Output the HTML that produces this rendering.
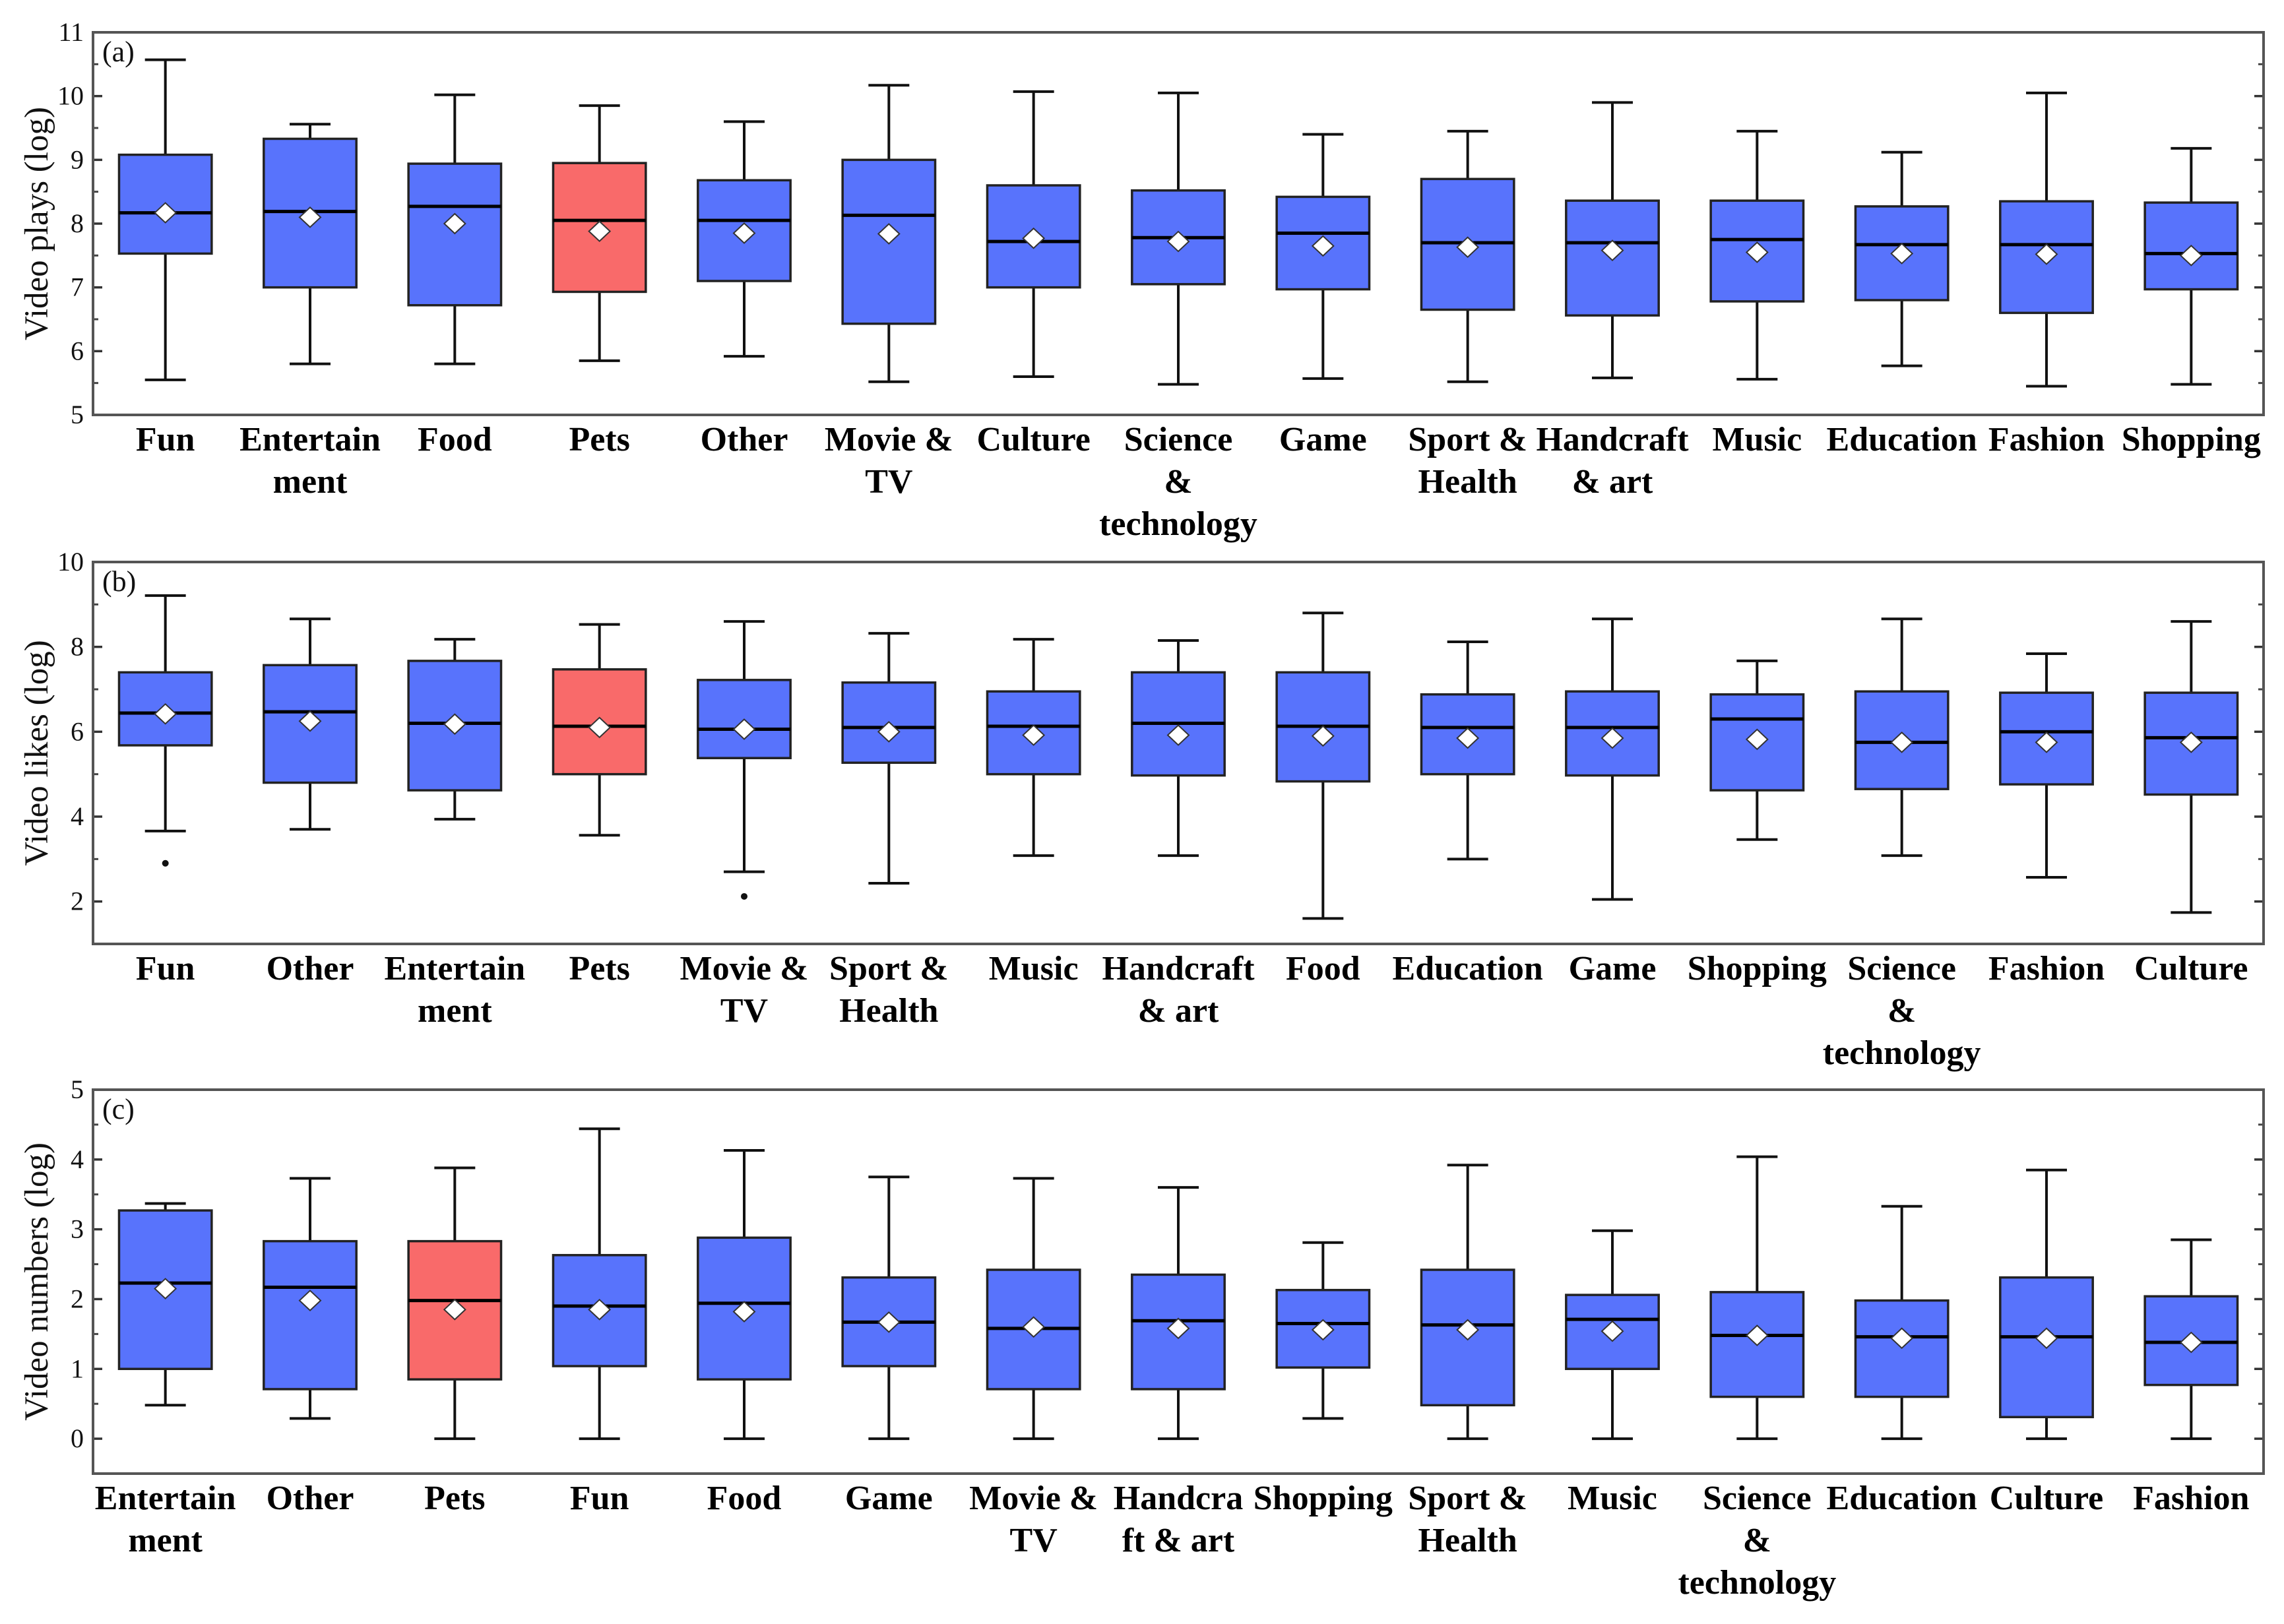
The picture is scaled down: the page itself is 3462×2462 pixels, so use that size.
<!DOCTYPE html>
<html><head><meta charset="utf-8">
<style>
html,body{margin:0;padding:0;background:#fff;}
svg{display:block;}
text{font-family:"Liberation Serif",serif;}
</style></head>
<body>
<svg id="chart" width="3462" height="2462" viewBox="0 0 3462 2462" xmlns="http://www.w3.org/2000/svg"></svg>
<script>
// Panel (a) - video plays
const catsA = ["Fun","Entertain\nment","Food","Pets","Other","Movie &\nTV","Culture","Science\n&\ntechnology","Game","Sport &\nHealth","Handcraft\n& art","Music","Education","Fashion","Shopping"];
const maxA = [10.57,9.56,10.02,9.85,9.6,10.17,10.07,10.05,9.4,9.45,9.9,9.45,9.12,10.05,9.18];
const q3A  = [9.08,9.33,8.94,8.95,8.68,9.0,8.6,8.52,8.42,8.7,8.36,8.36,8.27,8.35,8.33];
const medA = [8.17,8.19,8.27,8.05,8.05,8.13,7.72,7.78,7.85,7.7,7.7,7.75,7.67,7.67,7.53];
const q1A  = [7.53,7.0,6.72,6.93,7.1,6.43,7.0,7.05,6.97,6.65,6.56,6.78,6.8,6.6,6.97];
const minA = [5.55,5.8,5.8,5.85,5.92,5.52,5.6,5.48,5.57,5.52,5.58,5.56,5.77,5.45,5.48];
const meanA= [8.17,8.1,8.0,7.88,7.85,7.84,7.77,7.72,7.65,7.63,7.58,7.55,7.53,7.52,7.5];
const outA = [[],[],[],[],[],[],[],[],[],[],[],[],[],[],[]];
const ticksA = [5,6,7,8,9,10,11];

// Panel (b) - video likes
const catsB = ["Fun","Other","Entertain\nment","Pets","Movie &\nTV","Sport &\nHealth","Music","Handcraft\n& art","Food","Education","Game","Shopping","Science\n&\ntechnology","Fashion","Culture"];
const maxB = [9.21,8.66,8.18,8.53,8.6,8.32,8.18,8.15,8.8,8.12,8.66,7.67,8.66,7.84,8.6];
const q3B  = [7.4,7.57,7.67,7.47,7.22,7.16,6.95,7.4,7.4,6.88,6.95,6.88,6.95,6.92,6.92];
const medB = [6.44,6.47,6.2,6.13,6.06,6.1,6.13,6.2,6.13,6.1,6.1,6.3,5.75,6.0,5.86];
const q1B  = [5.68,4.8,4.62,5.0,5.38,5.27,5.0,4.97,4.83,5.0,4.97,4.62,4.65,4.76,4.52];
const minB = [3.66,3.7,3.94,3.56,2.7,2.43,3.08,3.08,1.6,3.0,2.05,3.46,3.08,2.57,1.74];
const meanB= [6.42,6.25,6.18,6.1,6.06,6.0,5.92,5.92,5.9,5.85,5.85,5.82,5.75,5.75,5.75];
const outB = [[2.9],[],[],[],[2.12],[],[],[],[],[],[],[],[],[],[]];
const ticksB = [2,4,6,8,10];

// Panel (c) - video numbers
const catsC = ["Entertain\nment","Other","Pets","Fun","Food","Game","Movie &\nTV","Handcra\nft & art","Shopping","Sport &\nHealth","Music","Science\n&\ntechnology","Education","Culture","Fashion"];
const maxC = [3.37,3.73,3.88,4.44,4.13,3.75,3.73,3.6,2.81,3.92,2.98,4.04,3.33,3.85,2.85];
const q3C  = [3.27,2.83,2.83,2.63,2.88,2.31,2.42,2.35,2.13,2.42,2.06,2.1,1.98,2.31,2.04];
const medC = [2.23,2.17,1.98,1.9,1.94,1.67,1.58,1.69,1.65,1.63,1.71,1.48,1.46,1.46,1.38];
const q1C  = [1.0,0.71,0.85,1.04,0.85,1.04,0.71,0.71,1.02,0.48,1.0,0.6,0.6,0.31,0.77];
const minC = [0.48,0.29,0,0,0,0,0,0,0.29,0,0,0,0,0,0];
const meanC= [2.15,1.98,1.85,1.85,1.82,1.67,1.6,1.58,1.56,1.56,1.54,1.48,1.44,1.44,1.38];
const outC = [[],[],[],[],[],[],[],[],[],[],[],[],[],[],[]];
const ticksC = [0,1,2,3,4,5];

const NS = "http://www.w3.org/2000/svg";
const svg = document.getElementById("chart");
const L = 141, R = 3431;
const BLUE = "#5873fc", RED = "#f96a6a";

function mk(tag, attrs, parent) {
  const e = document.createElementNS(NS, tag);
  for (const k in attrs) e.setAttribute(k, attrs[k]);
  (parent || svg).appendChild(e);
  return e;
}

function panel(id, title, tag, top, bottom, ymin, ymax, ticks, minorStep, cats, mx, q3, md, q1, mn, mean, outs) {
  const g = mk("g", {});
  
  
  const y = v => bottom - (v - ymin) / (ymax - ymin) * (bottom - top);
  const step = (R - L) / cats.length;
  const x = i => L + step * (i + 0.5);
  const bw = step * 0.64, cw = 62;

  for (let v = ymin; v <= ymax + 1e-9; v += minorStep) {
    if (ticks.some(t=>Math.abs(t-v)<1e-9)) continue;
    if (v <= ymin + 1e-9 || v >= ymax - 1e-9) continue;
    const mt = mk("line", {x1:L, x2:L+8, y1:y(v), y2:y(v), stroke:"#444", "stroke-width":3}, g);
    
    
    const mt2 = mk("line", {x1:R-8, x2:R, y1:y(v), y2:y(v), stroke:"#444", "stroke-width":3}, g);
    
    
  }
  ticks.forEach(t => {
    const a = mk("line", {x1:L, x2:L+14, y1:y(t), y2:y(t), stroke:"#333", "stroke-width":3.5}, g);
    
    
    const b = mk("line", {x1:R-14, x2:R, y1:y(t), y2:y(t), stroke:"#333", "stroke-width":3.5}, g);
    
    
    const tl = mk("text", {x:L-14, y:y(t)+13, "text-anchor":"end", "font-size":40, fill:"#111"}, g);
    tl.textContent = t;
    
    
  });

  cats.forEach((c, i) => {
    const cg = mk("g", {}, g);
    
    
    const cx = x(i);
    const fill = c === "Pets" ? RED : BLUE;
    mk("line", {x1:cx, x2:cx, y1:y(mx[i]), y2:y(q3[i]), stroke:"#111", "stroke-width":4}, cg);
    mk("line", {x1:cx, x2:cx, y1:y(q1[i]), y2:y(mn[i]), stroke:"#111", "stroke-width":4}, cg);
    mk("line", {x1:cx-cw/2, x2:cx+cw/2, y1:y(mx[i]), y2:y(mx[i]), stroke:"#111", "stroke-width":4}, cg);
    mk("line", {x1:cx-cw/2, x2:cx+cw/2, y1:y(mn[i]), y2:y(mn[i]), stroke:"#111", "stroke-width":4}, cg);
    mk("rect", {x:cx-bw/2, y:y(q3[i]), width:bw, height:y(q1[i])-y(q3[i]), fill:fill, stroke:"#222", "stroke-width":3.5}, cg);
    mk("line", {x1:cx-bw/2, x2:cx+bw/2, y1:y(md[i]), y2:y(md[i]), stroke:"#000", "stroke-width":5}, cg);
    const my = y(mean[i]);
    const d = mk("polygon", {points:`${cx-16},${my} ${cx},${my-15} ${cx+16},${my} ${cx},${my+15}`, fill:"#fff", stroke:"#333", "stroke-width":2}, cg);
    
    
    outs[i].forEach(o => {
      const oc = mk("circle", {cx:cx, cy:y(o), r:5, fill:"#111"}, cg);
      
      
    });
    const lines = c.split("\n");
    const lt = mk("text", {x:cx, y:bottom+54, "text-anchor":"middle", "font-size":52, "font-weight":"bold", fill:"#000"}, g);
    
    
    lines.forEach((ln, k) => {
      const ts = mk("tspan", {x:cx, dy: k===0 ? 0 : 64}, lt);
      ts.textContent = ln;
    });
  });

  const frame = mk("rect", {x:L, y:top, width:R-L, height:bottom-top, fill:"none", stroke:"#555", "stroke-width":4}, g);
  
  

  const pl = mk("text", {x:155, y:top+44, "font-size":44, fill:"#111"}, g);
  pl.textContent = tag;
  
  

  const cy = (top + bottom) / 2;
  const yt = mk("text", {x:0, y:0, transform:`translate(72 ${cy}) rotate(-90)`, "text-anchor":"middle", "font-size":51, fill:"#111"}, g);
  yt.textContent = title;
  
  
}

panel("a", "Video plays (log)", "(a)", 49, 629, 5, 11, ticksA, 0.5, catsA, maxA, q3A, medA, q1A, minA, meanA, outA);
panel("b", "Video likes (log)", "(b)", 852, 1431, 1, 10, ticksB, 1, catsB, maxB, q3B, medB, q1B, minB, meanB, outB);
panel("c", "Video numbers (log)", "(c)", 1652, 2234, -0.5, 5, ticksC, 0.5, catsC, maxC, q3C, medC, q1C, minC, meanC, outC);
</script>
</body></html>
